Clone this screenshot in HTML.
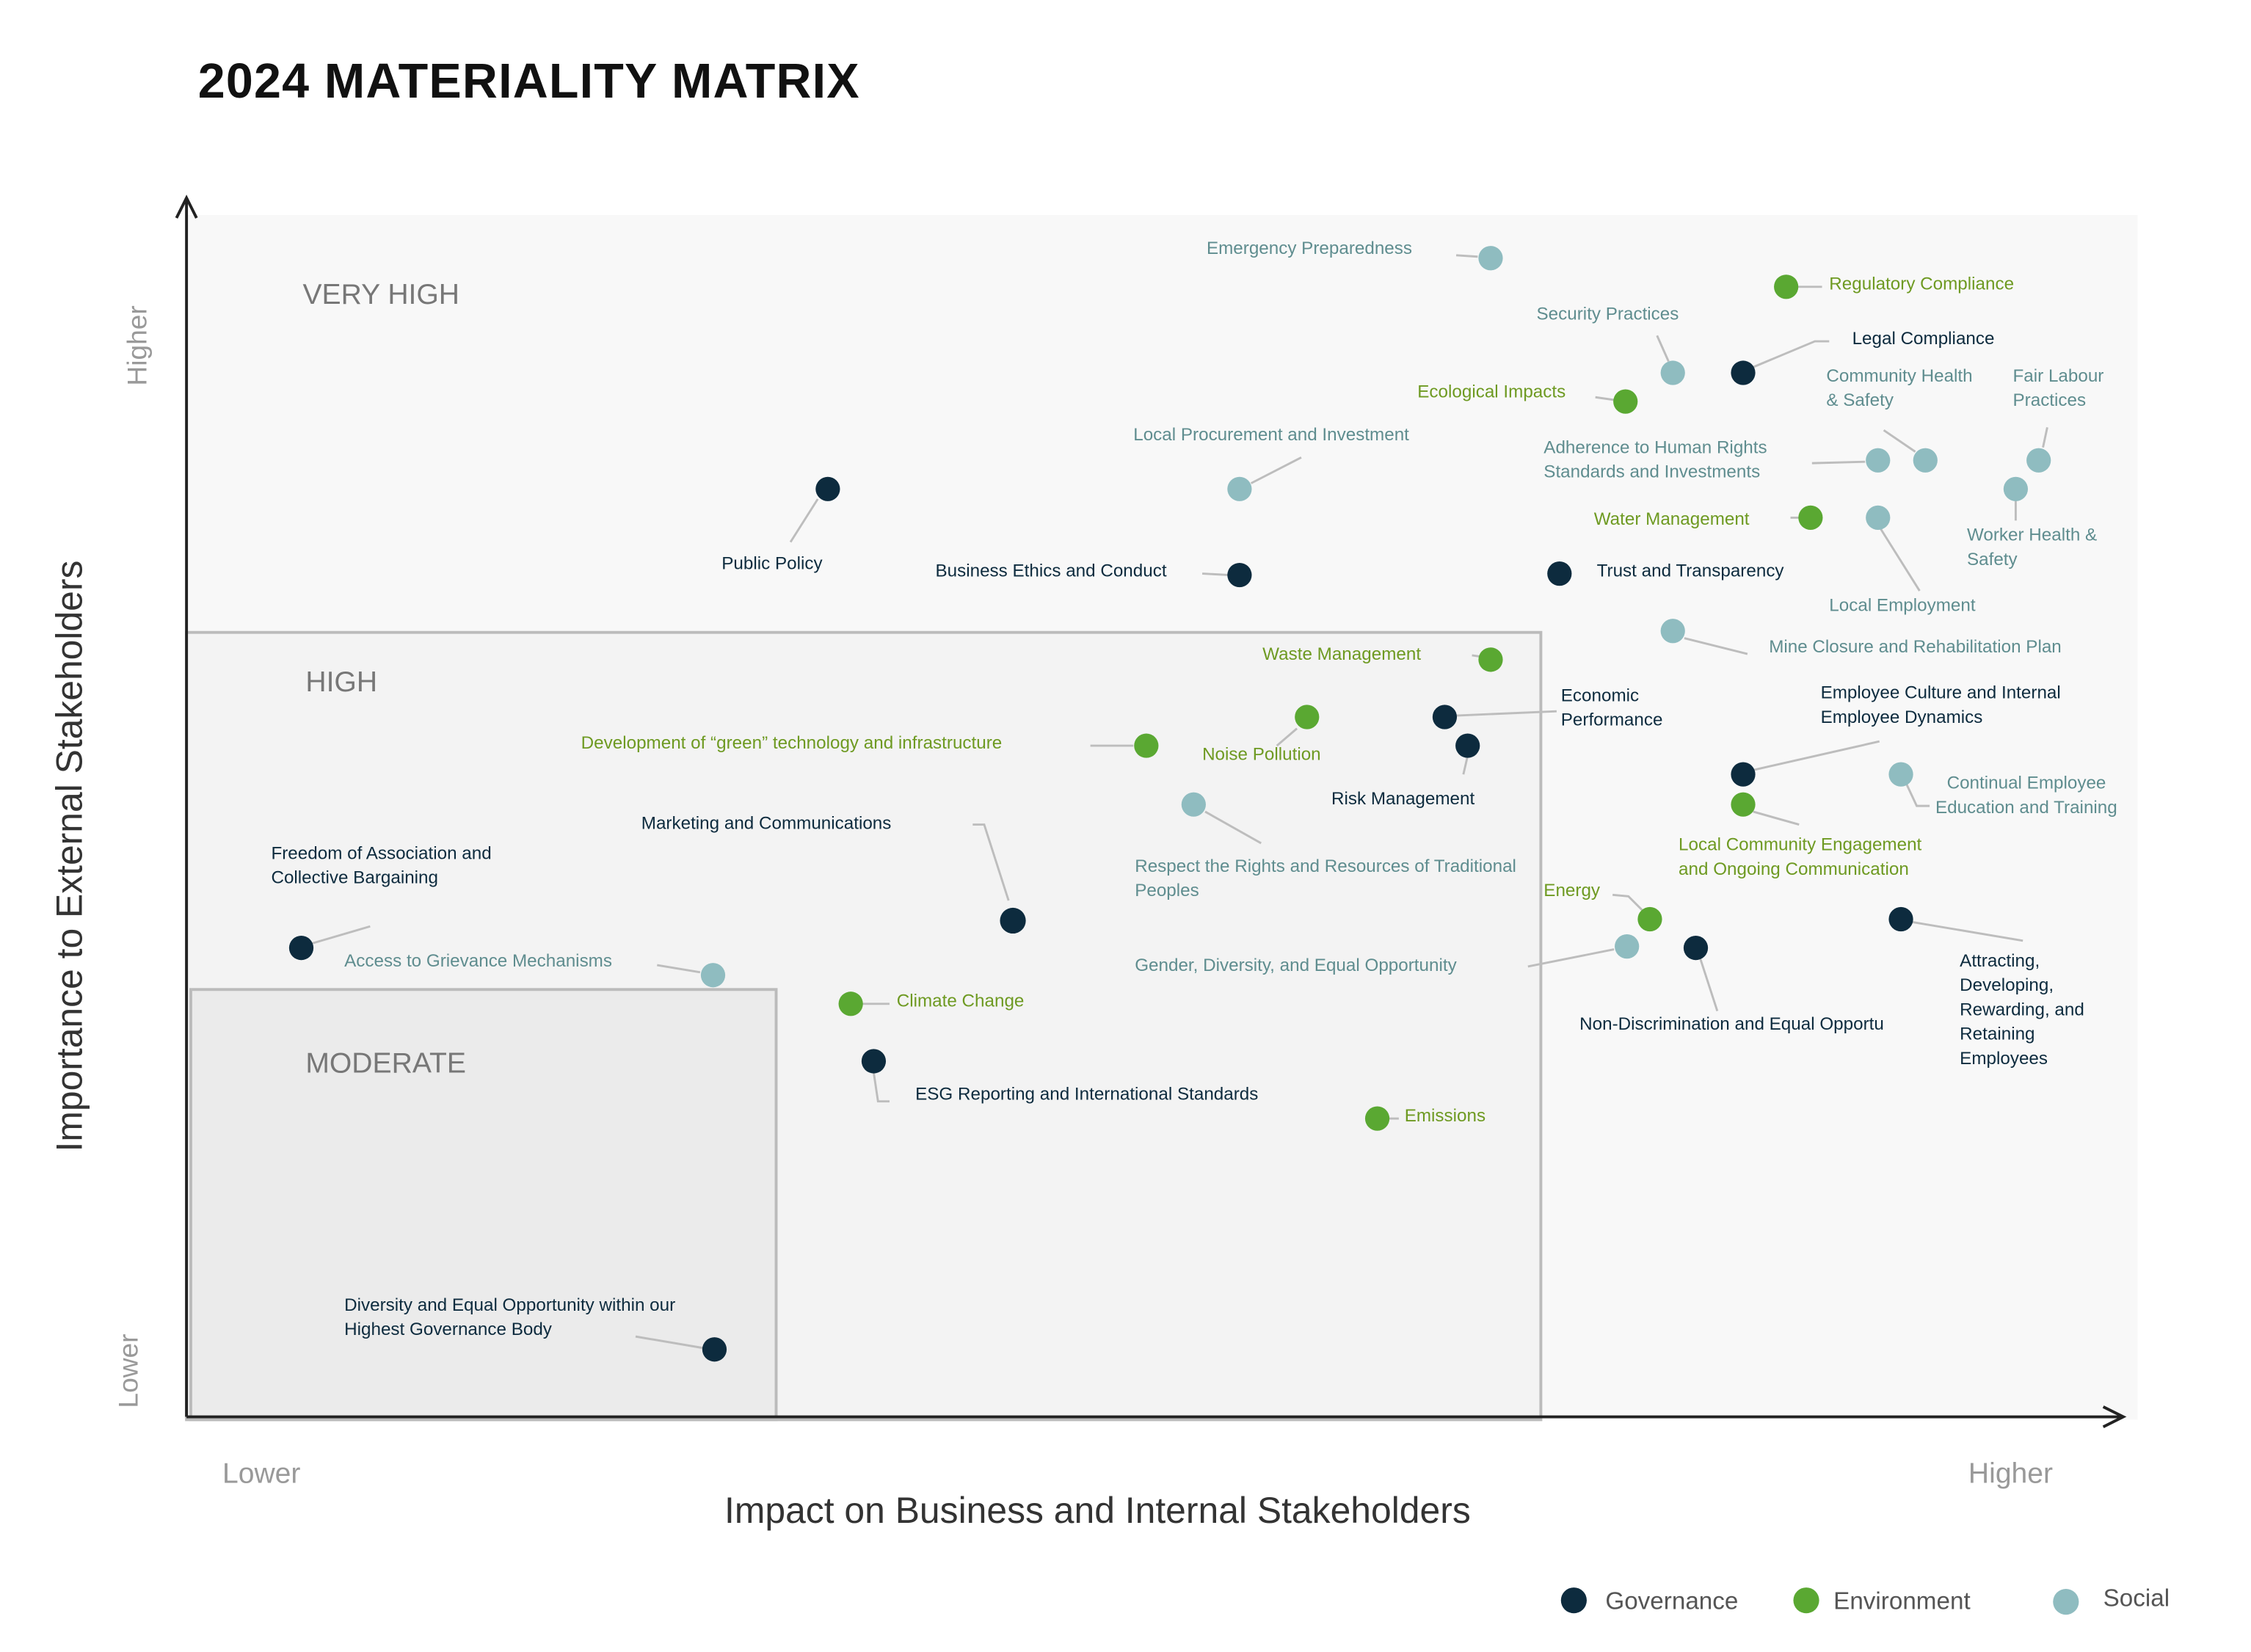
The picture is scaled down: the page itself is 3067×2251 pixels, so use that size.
<!DOCTYPE html>
<html><head><meta charset="utf-8"><style>
html,body{margin:0;padding:0;background:#fff}
svg{display:block}
text{font-family:"Liberation Sans Narrow","Liberation Sans",sans-serif;font-size:12.4px}
.g{fill:#0d2b3e}.e{fill:#5aa832}.s{fill:#8fbcc0}
.tg text{fill:#0d2b3e}.te text{fill:#6e9a22}.ts text{fill:#5f8d8f}
line,polyline{stroke:#bdbdbd;stroke-width:1.5;fill:none}
text.title{font-family:"Liberation Sans",sans-serif;font-size:34px;font-weight:bold;fill:#111;letter-spacing:0.6px}
text.reg{font-family:"Liberation Sans",sans-serif;font-size:20px;fill:#777}
text.ax{font-family:"Liberation Sans",sans-serif;font-size:25.5px;fill:#333}
text.hl{font-family:"Liberation Sans",sans-serif;font-size:19px;fill:#999}
text.hlb{font-family:"Liberation Sans",sans-serif;font-size:20px;fill:#999}
text.lg{font-family:"Liberation Sans",sans-serif;font-size:17px;fill:#555}
</style></head><body>
<svg width="3067" height="2251" viewBox="0 0 1569 1152" preserveAspectRatio="none" xmlns="http://www.w3.org/2000/svg">
<rect width="1569" height="1152" fill="#fff"/>
<text class="title" x="138" y="68">2024 MATERIALITY MATRIX</text>
<rect x="130" y="150" width="1360" height="840" fill="#f8f8f8"/>
<rect x="130" y="441" width="944" height="549" fill="#f3f3f3" stroke="#bbb" stroke-width="2"/>
<rect x="133" y="690" width="408" height="300" fill="#ebebeb" stroke="#bbb" stroke-width="2"/>
<path d="M130 988 V140 M123 152 L130 138 L137 152 M130 988 H1480 M1466 981 L1480 988 L1466 995" stroke="#222" stroke-width="2" fill="none"/>
<text class="reg" x="211" y="212">VERY HIGH</text><text class="reg" x="213" y="482">HIGH</text><text class="reg" x="213" y="748">MODERATE</text>
<text class="ax" transform="translate(57,597) rotate(-90)" text-anchor="middle">Importance to External Stakeholders</text>
<text class="hl" transform="translate(102,241) rotate(-90)" text-anchor="middle">Higher</text>
<text class="hl" transform="translate(96,956) rotate(-90)" text-anchor="middle">Lower</text>
<text class="hlb" x="155" y="1034">Lower</text>
<text class="hlb" x="1372" y="1034">Higher</text>
<text class="ax" x="765" y="1062" text-anchor="middle">Impact on Business and Internal Stakeholders</text>
<line x1="570" y1="348" x2="551" y2="378"/><line x1="838" y1="400" x2="857" y2="401"/>
<polyline points="1222,256 1265,238 1275,238"/><line x1="1015" y1="499" x2="1085" y2="496"/>
<line x1="1023" y1="527" x2="1020" y2="540"/><line x1="1222" y1="537" x2="1310" y2="517"/>
<polyline points="678,575 686,575 703,628"/><line x1="217" y1="658" x2="258" y2="646"/>
<polyline points="609,748 612,768 620,768"/><line x1="443" y1="932" x2="490" y2="940"/>
<line x1="1185" y1="668" x2="1197" y2="705"/><line x1="1333" y1="643" x2="1410" y2="656"/>
<line x1="1252" y1="200" x2="1270" y2="200"/><line x1="1112" y1="277" x2="1126" y2="279"/>
<line x1="1248" y1="361" x2="1255" y2="361"/><line x1="1026" y1="457" x2="1033" y2="458"/>
<line x1="904" y1="508" x2="890" y2="520"/><line x1="760" y1="520" x2="790" y2="520"/>
<line x1="1222" y1="566" x2="1254" y2="575"/><polyline points="1124,624 1135,625 1145,635"/>
<line x1="601" y1="700" x2="620" y2="700"/><line x1="967" y1="780" x2="975" y2="780"/>
<line x1="1015" y1="178" x2="1030" y2="179"/><line x1="1155" y1="234" x2="1163" y2="252"/>
<line x1="872" y1="337" x2="907" y2="319"/><line x1="1263" y1="323" x2="1300" y2="322"/>
<line x1="1313" y1="300" x2="1335" y2="315"/><line x1="1427" y1="298" x2="1424" y2="312"/>
<line x1="1405" y1="349" x2="1405" y2="363"/><line x1="1311" y1="369" x2="1338" y2="412"/>
<line x1="1174" y1="445" x2="1218" y2="456"/><polyline points="1329,547 1336,562 1345,562"/>
<line x1="840" y1="566" x2="879" y2="588"/><line x1="458" y1="673" x2="488" y2="678"/>
<line x1="1065" y1="674" x2="1125" y2="662"/>
<g class="g">
<circle cx="577" cy="341" r="8.5"/><circle cx="864" cy="401" r="8.5"/><circle cx="1087" cy="400" r="8.5"/>
<circle cx="1215" cy="260" r="8.5"/><circle cx="1007" cy="500" r="8.5"/><circle cx="1023" cy="520" r="8.5"/>
<circle cx="1215" cy="540" r="8.5"/><circle cx="706" cy="642" r="9"/><circle cx="210" cy="661" r="8.5"/>
<circle cx="609" cy="740" r="8.5"/><circle cx="498" cy="941" r="8.5"/><circle cx="1182" cy="661" r="8.5"/>
<circle cx="1325" cy="641" r="8.5"/><circle cx="1097" cy="1116" r="9"/></g>
<g class="e">
<circle cx="1245" cy="200" r="8.5"/><circle cx="1133" cy="280" r="8.5"/><circle cx="1262" cy="361" r="8.5"/>
<circle cx="1039" cy="460" r="8.5"/><circle cx="911" cy="500" r="8.5"/><circle cx="799" cy="520" r="8.5"/>
<circle cx="1215" cy="561" r="8.5"/><circle cx="1150" cy="641" r="8.5"/><circle cx="593" cy="700" r="8.5"/>
<circle cx="960" cy="780" r="8.5"/><circle cx="1259" cy="1116" r="9"/></g>
<g class="s">
<circle cx="1039" cy="180" r="8.5"/><circle cx="1166" cy="260" r="8.5"/><circle cx="864" cy="341" r="8.5"/>
<circle cx="1309" cy="321" r="8.5"/><circle cx="1342" cy="321" r="8.5"/><circle cx="1421" cy="321" r="8.5"/>
<circle cx="1405" cy="341" r="8.5"/><circle cx="1309" cy="361" r="8.5"/><circle cx="1166" cy="440" r="8.5"/>
<circle cx="1325" cy="540" r="8.5"/><circle cx="832" cy="561" r="8.5"/><circle cx="497" cy="680" r="8.5"/>
<circle cx="1134" cy="660" r="8.5"/><circle cx="1440" cy="1117" r="9"/></g>
<g class="tg">
<text x="503" y="397">Public Policy</text><text x="652" y="402">Business Ethics and Conduct</text>
<text x="1113" y="402">Trust and Transparency</text><text x="1291" y="240">Legal Compliance</text>
<text x="1088" y="489">Economic</text><text x="1088" y="506">Performance</text>
<text x="928" y="561">Risk Management</text>
<text x="1269" y="487">Employee Culture and Internal</text><text x="1269" y="504">Employee Dynamics</text>
<text x="447" y="578">Marketing and Communications</text>
<text x="189" y="599">Freedom of Association and</text><text x="189" y="616">Collective Bargaining</text>
<text x="638" y="767">ESG Reporting and International Standards</text>
<text x="240" y="914">Diversity and Equal Opportunity within our</text><text x="240" y="931">Highest Governance Body</text>
<text x="1101" y="718">Non-Discrimination and Equal Opportu</text>
<text x="1366" y="674">Attracting,</text><text x="1366" y="691">Developing,</text><text x="1366" y="708">Rewarding, and</text><text x="1366" y="725">Retaining</text><text x="1366" y="742">Employees</text>
</g>
<g class="te">
<text x="1275" y="202">Regulatory Compliance</text><text x="988" y="277">Ecological Impacts</text>
<text x="1111" y="366">Water Management</text><text x="880" y="460">Waste Management</text>
<text x="838" y="530">Noise Pollution</text><text x="405" y="522">Development of “green” technology and infrastructure</text>
<text x="1170" y="593">Local Community Engagement</text><text x="1170" y="610">and Ongoing Communication</text>
<text x="1076" y="625">Energy</text><text x="625" y="702">Climate Change</text><text x="979" y="782">Emissions</text>
</g>
<g class="ts">
<text x="841" y="177">Emergency Preparedness</text><text x="1071" y="223">Security Practices</text>
<text x="790" y="307">Local Procurement and Investment</text>
<text x="1076" y="316">Adherence to Human Rights</text><text x="1076" y="333">Standards and Investments</text>
<text x="1273" y="266">Community Health</text><text x="1273" y="283">&amp; Safety</text>
<text x="1403" y="266">Fair Labour</text><text x="1403" y="283">Practices</text>
<text x="1371" y="377">Worker Health &amp;</text><text x="1371" y="394">Safety</text>
<text x="1275" y="426">Local Employment</text><text x="1233" y="455">Mine Closure and Rehabilitation Plan</text>
<text x="1357" y="550">Continual Employee</text><text x="1349" y="567">Education and Training</text>
<text x="791" y="608">Respect the Rights and Resources of Traditional</text><text x="791" y="625">Peoples</text>
<text x="240" y="674">Access to Grievance Mechanisms</text>
<text x="791" y="677">Gender, Diversity, and Equal Opportunity</text>
</g>
<text class="lg" x="1119" y="1122">Governance</text><text class="lg" x="1278" y="1122">Environment</text><text class="lg" x="1466" y="1120">Social</text>
</svg>
</body></html>
